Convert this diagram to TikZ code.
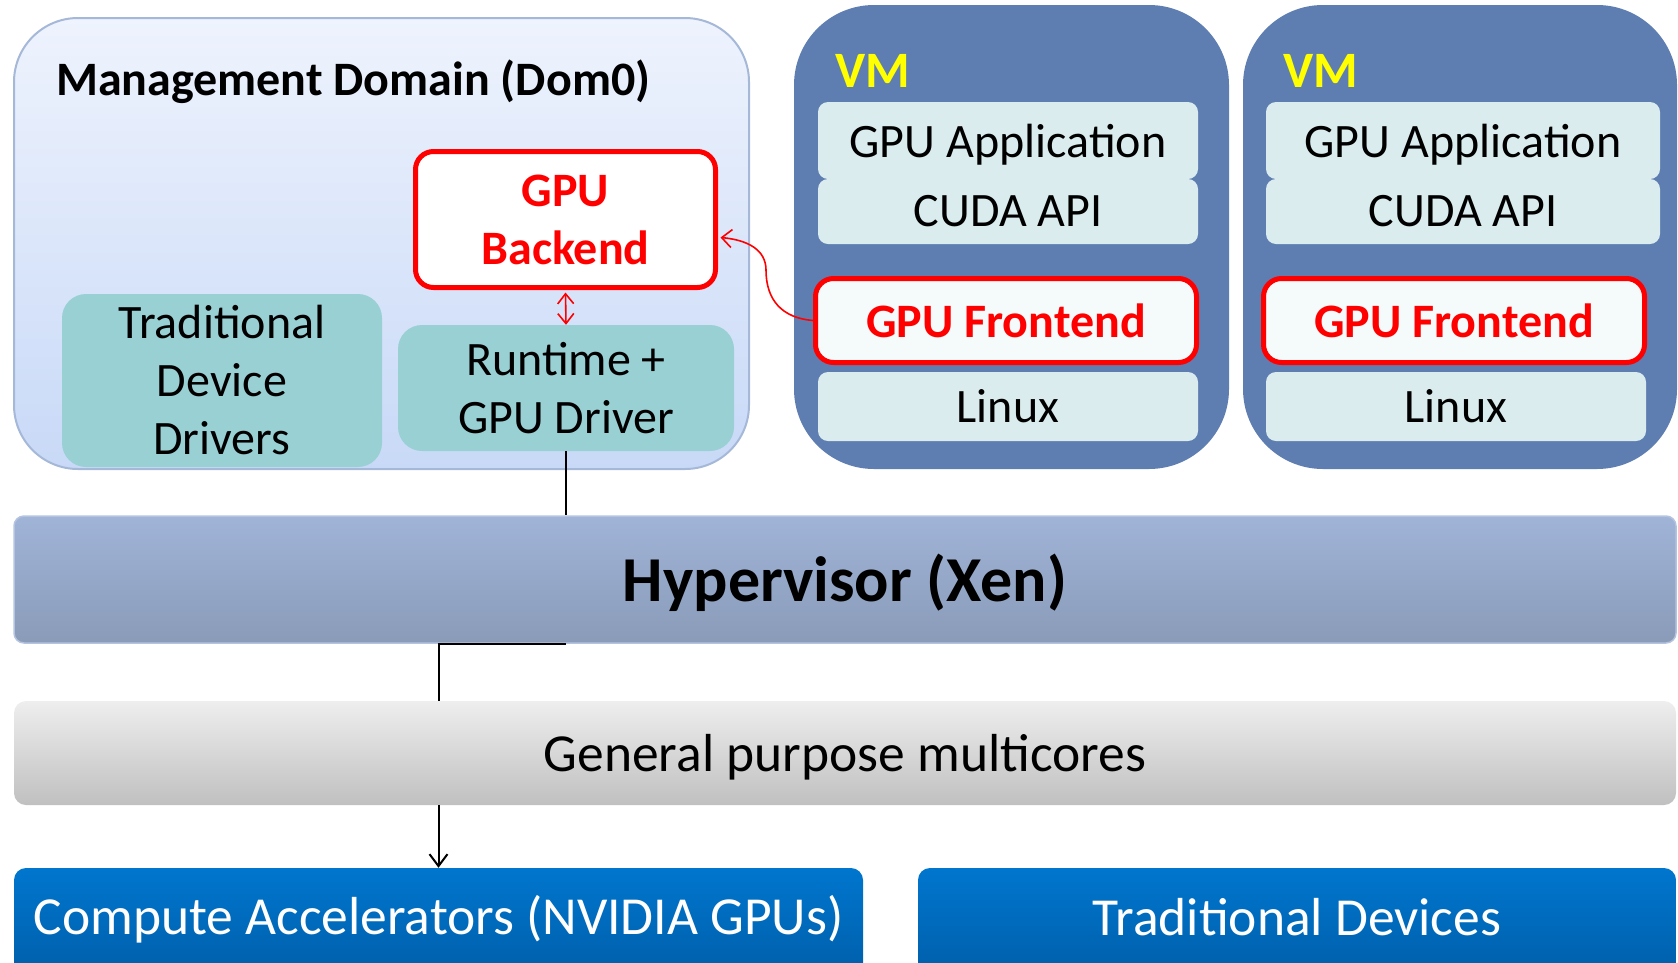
\documentclass[tikz,border=0pt]{standalone}
\usepackage{fontspec}
\setmainfont{Carlito}
\usetikzlibrary{arrows.meta}
\definecolor{domtop}{RGB}{238,243,253}
\definecolor{dombot}{RGB}{200,217,247}
\definecolor{domline}{RGB}{166,184,216}
\definecolor{tealc}{RGB}{153,208,212}
\definecolor{vmblue}{RGB}{94,126,178}
\definecolor{vmlight}{RGB}{218,236,237}
\definecolor{felight}{RGB}{245,250,251}
\definecolor{hvtop}{RGB}{160,180,216}
\definecolor{hvbot}{RGB}{138,155,184}
\definecolor{hvline}{RGB}{180,196,224}
\definecolor{mctop}{RGB}{238,238,238}
\definecolor{mcbot}{RGB}{192,192,192}
\definecolor{bltop}{RGB}{0,118,206}
\definecolor{blbot}{RGB}{0,92,166}
\definecolor{vmyellow}{RGB}{255,255,0}
\begin{document}
\begin{tikzpicture}[x=1pt,y=-1pt,
  box/.style={rectangle, inner sep=0pt, align=center},
  txt/.style={font=\fontsize{48}{58}\selectfont},
  btxt/.style={font=\fontsize{48}{58}\selectfont\bfseries},
  tealbox/.style={box, txt, fill=tealc, rounded corners=24pt},
  vmin/.style={box, txt, fill=vmlight, rounded corners=10pt},
  redbox/.style={box, btxt, text=red, draw=red, line width=5pt, rounded corners=18pt},
  vmbox/.style={box, fill=vmblue, rounded corners=80pt},
  wide/.style={box, rounded corners=12pt},
  conn/.style={line width=2pt, black},
  redconn/.style={line width=1.6pt, red}
]
\useasboundingbox (0,0) rectangle (1678,962);

% Management domain
\node[box, draw=domline, line width=2pt, top color=domtop, bottom color=dombot,
      rounded corners=64pt, minimum width=735pt, minimum height=451pt] (dom0) at (381.5,243.5) {};
\node[anchor=west, inner sep=0pt, btxt] (dom0t) at (56,82) {Management Domain (Dom0)};
\node[redbox, fill=white, minimum width=300pt, minimum height=136pt] (be) at (565.5,219.5) {GPU\\Backend};
\node[tealbox, minimum width=320pt, minimum height=173pt] (trad) at (222,380.5) {Traditional\\Device\\Drivers};
\node[tealbox, minimum width=336pt, minimum height=126pt] (rt) at (566,388) {Runtime +\\GPU Driver};

% VM 1
\node[vmbox, minimum width=435pt, minimum height=464pt] (vm1) at (1011.5,237) {};
\node[anchor=west, inner sep=0pt, font=\fontsize{51}{60}\selectfont\bfseries, text=vmyellow] (vm1t) at (835,71) {VM};
\node[vmin, text depth=0pt, minimum width=380pt, minimum height=77pt] (app1) at (1008,140.5) {GPU Application};
\node[vmin, minimum width=380pt, minimum height=65pt] (cuda1) at (1008,211.5) {CUDA API};
\node[redbox, fill=felight, minimum width=381pt, minimum height=84pt] (fe1) at (1006,320.5) {GPU Frontend};
\node[vmin, minimum width=380pt, minimum height=69pt] (lx1) at (1008,406.5) {Linux};

% VM 2
\node[vmbox, minimum width=434pt, minimum height=464pt] (vm2) at (1460,237) {};
\node[anchor=west, inner sep=0pt, font=\fontsize{51}{60}\selectfont\bfseries, text=vmyellow] (vm2t) at (1283,71) {VM};
\node[vmin, text depth=0pt, minimum width=394pt, minimum height=77pt] (app2) at (1463,140.5) {GPU Application};
\node[vmin, minimum width=394pt, minimum height=65pt] (cuda2) at (1463,211.5) {CUDA API};
\node[redbox, fill=felight, minimum width=381pt, minimum height=84pt] (fe2) at (1454,320.5) {GPU Frontend};
\node[vmin, minimum width=380pt, minimum height=69pt] (lx2) at (1456,406.5) {Linux};

% Hypervisor
\node[wide, draw=hvline, line width=1.5pt, top color=hvtop, bottom color=hvbot,
      minimum width=1662pt, minimum height=127pt, rounded corners=10pt] (hv) at (845,579.5) {};
\node[inner sep=0pt, font=\fontsize{64}{70}\selectfont\bfseries] (hvt) at (845,583) {Hypervisor (Xen)};

% Multicores
\node[wide, top color=mctop, bottom color=mcbot, minimum width=1662pt, minimum height=104pt] (mc) at (845,753) {};
\node[inner sep=0pt, font=\fontsize{53.5}{60}\selectfont] (mct) at (845,757) {General purpose multicores};

% Devices
\node[wide, top color=bltop, bottom color=blbot, minimum width=849pt, minimum height=120pt] (ca) at (438.5,928) {};
\node[inner sep=0pt, text=white, font=\fontsize{53.5}{60}\selectfont] (cat) at (438.5,919) {Compute Accelerators (NVIDIA GPUs)};
\node[wide, top color=bltop, bottom color=blbot, minimum width=758pt, minimum height=120pt] (td) at (1297,928) {};
\node[inner sep=0pt, text=white, font=\fontsize{53.5}{60}\selectfont] (tdt) at (1297,917) {Traditional Devices};

% Connectors
\coordinate (bmid) at (766,270);
\draw[redconn, {Straight Barb[length=10pt,width=16pt]}-{Straight Barb[length=10pt,width=16pt]}] ([yshift=-2.5pt]be.south) -- (rt.north);
\draw[redconn, -{Straight Barb[length=10pt,width=18pt]}] (fe1.west) .. controls (782,318) and (766,300) .. (bmid) .. controls (766,250) and (748,240) .. ([xshift=2.5pt,yshift=-18pt]be.east);
\draw[conn] (rt.south) -- (hv.north -| rt.south);
\coordinate (hvb) at (566,644);
\draw[conn] (hvb) -| (mc.north -| ca.north);
\draw[conn, -{Straight Barb[length=12pt,width=18pt]}] (mc.south -| ca.north) -- (ca.north);
\end{tikzpicture}
\end{document}
